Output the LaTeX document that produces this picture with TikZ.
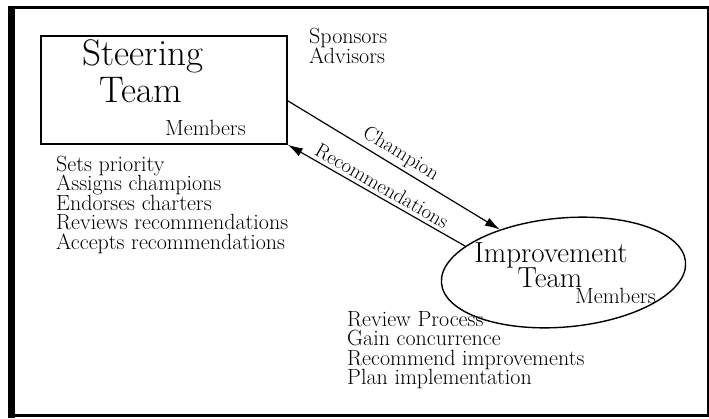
\documentclass[tikz,border=0pt]{standalone}
\usetikzlibrary{arrows.meta,shapes.geometric}

\begin{document}
\begin{tikzpicture}[x=1pt,y=-1pt,>={Latex[length=15pt,width=9pt]},
    teambox/.style={draw,line width=1.6pt,minimum width=246pt,minimum height=108pt,inner sep=0pt},
    teamoval/.style={draw,ellipse,line width=1.4pt,minimum width=245pt,minimum height=109pt,inner sep=0pt},
    flow/.style={line width=1.2pt},
    bigtxt/.style={font=\fontsize{37}{40}\selectfont,anchor=base},
    midtxt/.style={font=\fontsize{29}{31}\selectfont,anchor=base},
    listtxt/.style={font=\fontsize{22}{22}\selectfont,anchor=base west,inner sep=0pt},
    flowtxt/.style={font=\fontsize{20.5}{21}\selectfont,sloped,above}]
     \useasboundingbox (0,0) rectangle (709,418);
     % outer frame
     \draw[line width=3pt] (8,7) -- (709,7);
     \draw[line width=1.5pt] (708,7) -- (708,417);
     \draw[line width=3.5pt] (8,415.5) -- (708,415.5);
     \draw[line width=7pt] (11.5,6) -- (11.5,418);
     % the two teams
     \node[teambox] (steering) at (164,90) {};
     \node[teamoval,rotate=5] (improve) at (563.5,272.5) {};
     \node[bigtxt] (steerA) at (143,65) {Steering};
     \node[bigtxt] (steerB) at (141,102) {Team};
     \node[listtxt] (steerM) at (165,135) {Members};
     \node[midtxt] (impA) at (551,262) {Improvement};
     \node[midtxt] (impB) at (550,287) {Team};
     \node[listtxt] (impM) at (575,303) {Members};
     % who is above
     \node[listtxt] (spons) at (309,43) {Sponsors};
     \node[listtxt] (advis) at (309,63) {Advisors};
     % duties
     \foreach \t [count=\i] in {Sets priority,Assigns champions,Endorses charters,
        Reviews recommendations,Accepts recommendations} {
      \node[listtxt] (sduty\i) at (56,{171+19.5*(\i-1)}) {\t};
     }
     \foreach \t [count=\i] in {Review Process,Gain concurrence,
        Recommend improvements,Plan implementation} {
      \node[listtxt] (iduty\i) at (347,{326+19.5*(\i-1)}) {\t};
     }
     % flows
     \draw[flow,->] (steering.-5) -- node[flowtxt] (champ) {Champion} (improve.141);
     \draw[flow,<-] (steering.south east) -- node[flowtxt] (recom) {Recommendations} (improve.160);
    \end{tikzpicture}
\end{document}
